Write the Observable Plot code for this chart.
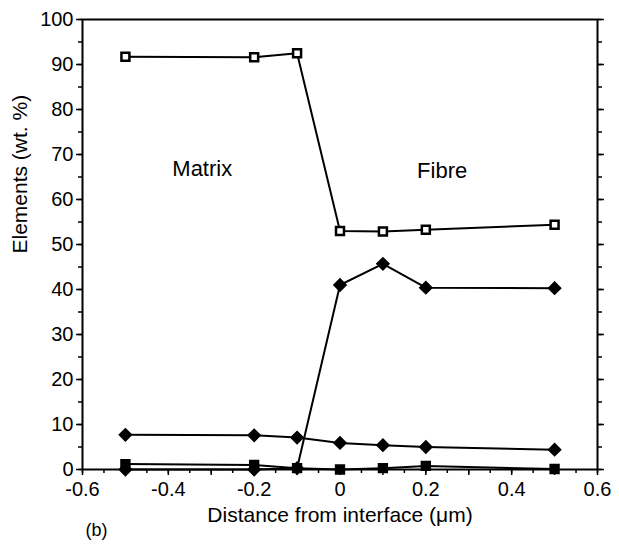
<!DOCTYPE html>
<html>
<head>
<meta charset="utf-8">
<script src="https://cdn.jsdelivr.net/npm/d3@7"></script>
<script src="https://cdn.jsdelivr.net/npm/@observablehq/plot@0.6"></script>
<style>
  html, body { margin: 0; padding: 0; background: white; }
  svg text { fill: black; }
</style>
</head>
<body>
<div id="chart"></div>
<script>
// Distance from interface (µm)
const distances = [-0.5, -0.2, -0.1, 0, 0.1, 0.2, 0.5];
// Element concentrations (wt. %)
const openSquares   = [91.7, 91.6, 92.5, 53.0, 52.9, 53.3, 54.4];
const bigDiamonds   = [0.0, 0.0, 0.3, 41.0, 45.7, 40.4, 40.3];
const smallDiamonds = [7.7, 7.6, 7.1, 5.9, 5.4, 5.0, 4.4];
const filledSquares = [1.2, 1.0, 0.3, 0.0, 0.3, 0.8, 0.1];

const yMajorTicks = d3.range(0, 101, 10);
const yMinorTicks = d3.range(0, 101, 5);
const xLabelTicks = [-0.6, -0.4, -0.2, 0, 0.2, 0.4, 0.6];
const xMajorTicks = d3.range(-6, 7).map(i => i / 10);
const xMinorTicks = d3.range(-12, 13).map(i => i / 20);

const regionLabels = ["Matrix", "Fibre"];
const regionX = [-0.321, 0.238];
const regionY = [66.7, 66.4];

const mk = (name, vals) => vals.map((v, i) => ({series: name, x: distances[i], y: v}));
const dOpen = mk("openSquares", openSquares);
const dBig = mk("bigDiamonds", bigDiamonds);
const dSmall = mk("smallDiamonds", smallDiamonds);
const dFilled = mk("filledSquares", filledSquares);
const all = [...dOpen, ...dBig, ...dSmall, ...dFilled];
const regions = regionLabels.map((t, i) => ({t, x: regionX[i], y: regionY[i]}));

const fmt = d => String(d);
const none = () => "";

const chart = Plot.plot({
  width: 619,
  height: 545,
  marginLeft: 82,
  marginRight: 22,
  marginTop: 19,
  marginBottom: 76,
  x: {domain: [-0.6, 0.6]},
  y: {domain: [0, 100]},
  style: {fontFamily: "'Liberation Sans', Arial, Helvetica, sans-serif", fontSize: "20px", color: "black", background: "white", overflow: "visible"},
  marks: [
    Plot.frame({stroke: "black", strokeWidth: 2}),
    Plot.axisY(yMinorTicks, {anchor: "left", tickSize: 4, tickFormat: none, strokeWidth: 1.5, label: null}),
    Plot.axisY(yMajorTicks, {anchor: "left", tickSize: 6, tickPadding: 3, tickFormat: fmt, strokeWidth: 1.5, label: null, fill: "black"}),
    Plot.axisY(yMinorTicks, {anchor: "right", tickSize: 4, tickFormat: none, strokeWidth: 1.5, label: null}),
    Plot.axisY(yMajorTicks, {anchor: "right", tickSize: 6, tickFormat: none, strokeWidth: 1.5, label: null}),
    Plot.axisX(xMinorTicks, {anchor: "bottom", tickSize: 4, tickFormat: none, strokeWidth: 1.5, label: null}),
    Plot.axisX(xMajorTicks, {anchor: "bottom", tickSize: 6, tickFormat: none, strokeWidth: 1.5, label: null}),
    Plot.axisX(xLabelTicks, {anchor: "bottom", tickSize: 0, tickPadding: 12, tickFormat: fmt, label: null, fill: "black"}),
    Plot.text(["Elements (wt. %)"], {frameAnchor: "left", dx: -62, dy: 9, rotate: -90, fontSize: 21, fill: "black"}),
    Plot.text(["Distance from interface (μm)"], {frameAnchor: "bottom", dy: 52, fontSize: 21, fill: "black"}),
    Plot.text(["(b)"], {frameAnchor: "bottom-left", textAnchor: "start", dx: 3, dy: 66, fontSize: 18, fill: "black"}),
    Plot.text(regions, {x: "x", y: "y", text: "t", fontSize: 22, fill: "black"}),
    Plot.line(all, {x: "x", y: "y", z: "series", stroke: "black", strokeWidth: 2}),
    Plot.dot(dBig, {x: "x", y: "y", symbol: "diamond2", r: 5.5, fill: "black", stroke: "black"}),
    Plot.dot(dSmall, {x: "x", y: "y", symbol: "diamond2", r: 5.5, fill: "black", stroke: "black"}),
    Plot.dot(dFilled, {x: "x", y: "y", symbol: "square", r: 5, fill: "black", stroke: "black"}),
    Plot.dot(dOpen, {x: "x", y: "y", symbol: "square", r: 4.5, fill: "white", stroke: "black", strokeWidth: 2.5})
  ]
});
document.getElementById("chart").appendChild(chart);
</script>
</body>
</html>
